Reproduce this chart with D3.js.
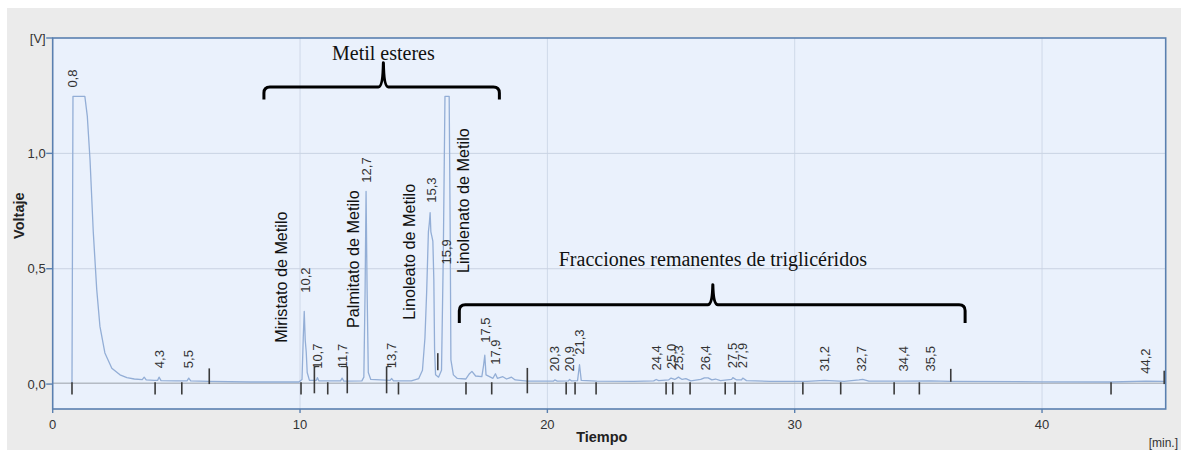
<!DOCTYPE html>
<html><head><meta charset="utf-8">
<script src="https://cdn.jsdelivr.net/npm/d3@7"></script>
<style>
html,body{margin:0;padding:0;background:#fff;}
svg{display:block;}
</style></head><body>
<svg id="c" width="1181" height="450"></svg>
<script>
// ---------------- data ----------------
const xTicks = [0, 10, 20, 30, 40];
const xTickLabels = ["0", "10", "20", "30", "40"];
const yTicks = [0.0, 0.5, 1.0];
const yTickLabels = ["0,0", "0,5", "1,0"];
const yUnitLabel = "[V]";
const xUnitLabel = "[min.]";
const xTitle = "Tiempo";
const yTitle = "Voltaje";

const traceTime = [0.78,0.82,1.30,1.40,1.51,1.64,1.78,1.91,2.11,2.39,2.72,3.00,3.30,3.62,3.70,3.78,4.10,4.24,4.30,4.38,5.00,5.43,5.50,5.58,6.30,8.00,9.95,
  10.08,10.13,10.17,10.21,10.25,10.29,10.38,10.66,10.70,10.76,11.64,11.70,11.77,12.50,12.58,12.63,12.67,12.71,12.76,12.86,13.64,13.70,13.78,14.50,14.80,14.95,
  15.05,15.12,15.19,15.23,15.26,15.29,15.33,15.37,15.41,15.44,15.48,15.60,15.72,15.79,15.86,16.03,16.07,16.10,16.20,16.35,16.70,16.85,16.95,17.10,17.35,17.42,
  17.47,17.52,17.80,17.90,17.98,18.20,18.35,18.55,18.70,19.20,20.25,20.30,20.40,20.85,20.90,20.97,21.22,21.30,21.37,22.00,23.50,24.30,24.40,24.50,24.90,25.00,
  25.15,25.30,25.45,25.60,25.80,26.20,26.35,26.50,26.65,26.80,27.00,27.45,27.50,27.65,27.85,27.90,28.05,29.00,30.50,31.20,32.00,32.60,32.75,33.00,34.40,35.50,
  36.30,40.00,42.80,44.20,44.94];
const traceVolt = [0.005,1.247,1.247,1.16,0.97,0.66,0.41,0.25,0.135,0.069,0.040,0.028,0.022,0.019,0.030,0.018,0.016,0.016,0.030,0.015,0.014,0.014,0.026,0.014,0.012,0.009,0.009,
  0.02,0.20,0.315,0.19,0.14,0.05,0.016,0.016,0.028,0.014,0.014,0.026,0.013,0.014,0.03,0.40,0.835,0.42,0.05,0.02,0.016,0.024,0.014,0.014,0.024,0.06,
  0.20,0.40,0.66,0.70,0.743,0.66,0.64,0.62,0.45,0.15,0.04,0.03,0.06,0.54,1.247,1.247,0.68,0.105,0.04,0.025,0.022,0.045,0.055,0.035,0.032,0.08,
  0.125,0.04,0.025,0.045,0.025,0.032,0.022,0.03,0.018,0.013,0.013,0.018,0.013,0.014,0.02,0.014,0.015,0.084,0.016,0.013,0.012,0.014,0.02,0.015,0.018,0.026,
  0.02,0.03,0.02,0.024,0.014,0.02,0.027,0.027,0.018,0.022,0.015,0.02,0.028,0.018,0.018,0.026,0.015,0.012,0.012,0.016,0.012,0.018,0.02,0.013,0.013,0.014,
  0.012,0.010,0.009,0.013,0.012];

const peakTimes = [0.8,4.3,5.5,10.2,10.7,11.7,12.7,13.7,15.3,15.9,17.5,17.9,20.3,20.9,21.3,24.4,25.0,25.3,26.4,27.5,27.9,31.2,32.7,34.4,35.5,44.2];
const peakLabels = ["0,8","4,3","5,5","10,2","10,7","11,7","12,7","13,7","15,3","15,9","17,5","17,9","20,3","20,9","21,3","24,4","25,0","25,3","26,4","27,5","27,9","31,2","32,7","34,4","35,5","44,2"];
const peakLabelLevel = [1.285,0.069,0.069,0.396,0.066,0.069,0.873,0.069,0.786,0.518,0.179,0.084,0.055,0.055,0.127,0.059,0.065,0.059,0.059,0.069,0.069,0.055,0.055,0.055,0.055,0.045];

// integration markers: time, from V, to V
const markerTimes = [0.78,4.14,5.22,6.33,10.04,10.58,11.12,11.91,13.50,13.98,15.57,16.71,17.75,19.19,20.76,21.12,21.97,24.80,25.07,25.77,27.19,27.59,30.33,31.86,34.02,35.04,36.31,42.79,44.94];
const markerFrom  = [0.008,0.008,0.008,0.0,0.008,0.076,0.008,0.076,0.076,0.008,0.060,0.008,0.008,0.070,0.008,0.008,0.008,0.008,0.008,0.008,0.008,0.008,0.008,0.008,0.008,0.008,0.010,0.008,0.0];
const markerTo    = [-0.045,-0.045,-0.045,0.068,-0.045,-0.040,-0.045,-0.040,-0.040,-0.045,0.134,-0.045,-0.045,-0.040,-0.045,-0.045,-0.045,-0.045,-0.045,-0.045,-0.045,-0.045,-0.045,-0.045,-0.045,-0.045,0.066,-0.045,0.058];
const markerTab   = [0,0,0,0,0,0.2,0,-0.27,0.2,0,0,0,0,0,0,0,0,0,0,0,0,0,0,0,0,0,0,0,0];

const compoundNames = ["Miristato de Metilo","Palmitato de Metilo","Linoleato de Metilo","Linolenato de Metilo"];
const compoundTimes = [9.26, 12.16, 14.42, 16.60];
const compoundLevel = [0.179, 0.243, 0.279, 0.481];

const groupNames = ["Metil esteres","Fracciones remanentes de triglicéridos"];
const groupStart = [8.54, 16.44];
const groupEnd   = [18.06, 36.89];
const groupMid   = [13.37, 26.69];
const groupBar   = [1.288, 0.344];
const groupFoot  = [1.233, 0.265];
const groupTip   = [1.393, 0.431];
const groupText  = [1.406, 0.510];

// ---------------- drawing ----------------
const svg = d3.select("#c");
const W = 1181, H = 450;
const plot = {l: 52.7, r: 1165.7, t: 38, b: 409};
const x = d3.scaleLinear().domain([0, 45]).range([plot.l, plot.r]);
const y = d3.scaleLinear().domain([-0.108, 1.5]).range([plot.b, plot.t]);
const sans = "'Liberation Sans', Arial, sans-serif";
const serif = "'Liberation Serif', 'Times New Roman', serif";

svg.append("rect").attr("x", 0).attr("y", 0).attr("width", W).attr("height", H).attr("fill", "#ffffff");
svg.append("rect").attr("x", 7).attr("y", 8).attr("width", W - 7).attr("height", H - 8).attr("fill", "#ebebeb");
svg.append("rect").attr("x", plot.l).attr("y", plot.t).attr("width", plot.r - plot.l).attr("height", plot.b - plot.t).attr("fill", "#eaf1fc");

// grid
svg.append("g").selectAll("line").data(xTicks.filter(d => d > 0)).join("line")
  .attr("x1", d => x(d)).attr("x2", d => x(d)).attr("y1", plot.t).attr("y2", plot.b)
  .attr("stroke", "#cfd9e8").attr("stroke-width", 1);
svg.append("g").selectAll("line").data(yTicks.filter(d => d > 0)).join("line")
  .attr("x1", plot.l).attr("x2", plot.r).attr("y1", d => y(d)).attr("y2", d => y(d))
  .attr("stroke", "#c9d3e2").attr("stroke-width", 1);
// zero line
svg.append("line").attr("x1", plot.l).attr("x2", plot.r).attr("y1", y(0.004)).attr("y2", y(0.004))
  .attr("stroke", "#9aa0a8").attr("stroke-width", 1);

// trace
const traceData = traceTime.map((t, i) => [t, traceVolt[i]]);
svg.append("path").datum(traceData)
  .attr("d", d3.line().x(d => x(d[0])).y(d => y(d[1])))
  .attr("fill", "none").attr("stroke", "#93aed6").attr("stroke-width", 1.3).attr("stroke-linejoin", "round");

// markers
const mk = svg.append("g").attr("stroke", "#3a3a3a").attr("stroke-width", 1.6).attr("fill", "none");
markerTimes.forEach((t, i) => {
  mk.append("line").attr("x1", x(t)).attr("x2", x(t)).attr("y1", y(markerFrom[i])).attr("y2", y(markerTo[i]));
  if (markerTab[i] !== 0) {
    mk.append("line").attr("x1", x(t)).attr("x2", x(t + markerTab[i]))
      .attr("y1", y(markerFrom[i])).attr("y2", y(markerFrom[i])).attr("stroke-width", 1.2);
  }
});

// border
svg.append("rect").attr("x", plot.l).attr("y", plot.t).attr("width", plot.r - plot.l).attr("height", plot.b - plot.t)
  .attr("fill", "none").attr("stroke", "#5a80b0").attr("stroke-width", 1.6);

// axes ticks
svg.append("g").selectAll("line").data(xTicks).join("line")
  .attr("x1", d => x(d)).attr("x2", d => x(d)).attr("y1", plot.b).attr("y2", plot.b + 4)
  .attr("stroke", "#5a80b0").attr("stroke-width", 1.4);
svg.append("g").selectAll("text").data(xTicks).join("text")
  .attr("x", d => x(d)).attr("y", 429).attr("text-anchor", "middle")
  .attr("font-family", sans).attr("font-size", 13).attr("fill", "#333")
  .text((d, i) => xTickLabels[i]);

const yt = yTicks.concat([1.5]);
svg.append("g").selectAll("line").data(yt).join("line")
  .attr("x1", plot.l - 6.5).attr("x2", plot.l).attr("y1", d => y(d)).attr("y2", d => y(d))
  .attr("stroke", "#5a80b0").attr("stroke-width", 1.4);
svg.append("g").selectAll("text").data(yt).join("text")
  .attr("x", plot.l - 7).attr("y", d => y(d)).attr("dy", "0.35em").attr("text-anchor", "end")
  .attr("font-family", sans).attr("font-size", 13).attr("fill", "#333")
  .text((d, i) => i < yTickLabels.length ? yTickLabels[i] : yUnitLabel);

svg.append("text").attr("x", x(22.2)).attr("y", 442).attr("text-anchor", "middle")
  .attr("font-family", sans).attr("font-size", 14.5).attr("font-weight", "bold").attr("fill", "#222").text(xTitle);
svg.append("text").attr("transform", `translate(24,${y(0.73)}) rotate(-90)`).attr("text-anchor", "middle")
  .attr("font-family", sans).attr("font-size", 14.5).attr("font-weight", "bold").attr("fill", "#222").text(yTitle);
svg.append("text").attr("x", 1178).attr("y", 447).attr("text-anchor", "end")
  .attr("font-family", sans).attr("font-size", 12).attr("fill", "#333").text(xUnitLabel);

// peak labels
svg.append("g").selectAll("text").data(peakTimes).join("text")
  .attr("transform", (d, i) => `translate(${x(d)},${y(peakLabelLevel[i])}) rotate(-90)`)
  .attr("dy", "0.35em").attr("text-anchor", "start")
  .attr("font-family", sans).attr("font-size", 13).attr("fill", "#333")
  .text((d, i) => peakLabels[i]);

// compound labels
svg.append("g").selectAll("text").data(compoundTimes).join("text")
  .attr("transform", (d, i) => `translate(${x(d)},${y(compoundLevel[i])}) rotate(-90)`)
  .attr("dy", "0.35em").attr("text-anchor", "start")
  .attr("font-family", sans).attr("font-size", 16.2).attr("fill", "#111")
  .text((d, i) => compoundNames[i]);

// braces
groupNames.forEach((name, i) => {
  const xl = x(groupStart[i]), xr = x(groupEnd[i]), xc = x(groupMid[i]);
  const yb = y(groupBar[i]), yf = y(groupFoot[i]), yp = y(groupTip[i]);
  const r = 6, r2 = 5;
  const p = d3.path();
  p.moveTo(xl, yf);
  p.lineTo(xl, yb + r);
  p.quadraticCurveTo(xl, yb, xl + r, yb);
  p.lineTo(xc - r2, yb);
  p.quadraticCurveTo(xc - 0.5, yb, xc, yp);
  p.quadraticCurveTo(xc + 0.5, yb, xc + r2, yb);
  p.lineTo(xr - r, yb);
  p.quadraticCurveTo(xr, yb, xr, yb + r);
  p.lineTo(xr, yf);
  svg.append("path").attr("d", p.toString()).attr("fill", "none").attr("stroke", "#000")
    .attr("stroke-width", 3).attr("stroke-linejoin", "round");
  svg.append("text").attr("x", xc).attr("y", y(groupText[i])).attr("text-anchor", "middle")
    .attr("font-family", serif).attr("font-size", 20).attr("fill", "#111").text(name);
});
</script>
</body></html>
